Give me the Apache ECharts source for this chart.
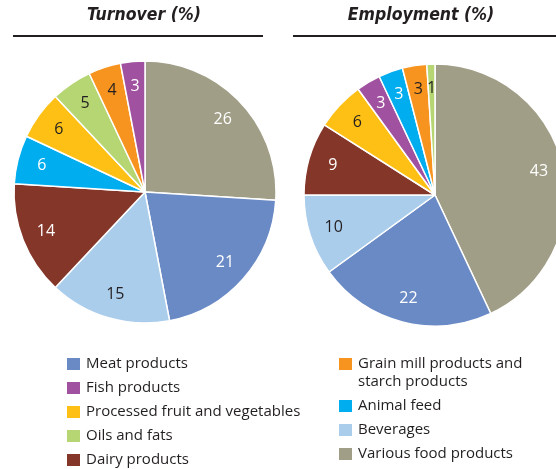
<html>
<head>
<meta charset="UTF-8">
<script src="https://cdnjs.cloudflare.com/ajax/libs/echarts/6.0.0/echarts.min.js"></script>
</head>
<body style="margin:0">
<div id="main" style="width:556px;height:469px"></div>
<script>
// categories in the order the legend lists them
var categories = ['Meat products', 'Fish products', 'Processed fruit and vegetables', 'Oils and fats', 'Dairy products',
  'Grain mill products and starch products', 'Animal feed', 'Beverages', 'Various food products'];

// slices, clockwise from 12 o'clock
var turnoverNames = ['Various food products', 'Meat products', 'Beverages', 'Dairy products', 'Animal feed',
  'Processed fruit and vegetables', 'Oils and fats', 'Grain mill products and starch products', 'Fish products'];
var turnoverValues = [26, 21, 15, 14, 6, 6, 5, 4, 3];

var employmentNames = ['Various food products', 'Meat products', 'Beverages', 'Dairy products',
  'Processed fruit and vegetables', 'Fish products', 'Animal feed', 'Grain mill products and starch products', 'Oils and fats'];
var employmentValues = [43, 22, 10, 9, 6, 3, 3, 3, 1];

var colors = {
  'Meat products': '#6a8ac6',
  'Fish products': '#a0519f',
  'Processed fruit and vegetables': '#fec014',
  'Oils and fats': '#b5d673',
  'Dairy products': '#843629',
  'Grain mill products and starch products': '#f7941f',
  'Animal feed': '#00adee',
  'Beverages': '#abcdec',
  'Various food products': '#a09e86'
};
// slices whose number is printed dark
var darkText = ['Processed fruit and vegetables', 'Oils and fats', 'Grain mill products and starch products', 'Beverages'];

var chart = echarts.init(document.getElementById('main'));
var font = 'Open Sans';
var ink = '#231f20';
var R = 131;

function slices(names, values) {
  return names.map(function (n, i) {
    return {name: n, value: values[i], itemStyle: {color: colors[n]}};
  });
}
function labels(names, values) {
  return names.map(function (n, i) {
    return {name: n, value: values[i],
      label: {color: darkText.indexOf(n) >= 0 ? ink : '#ffffff'}};
  });
}
function pie(center, names, values) {
  return {
    type: 'pie', center: center, radius: [0, R], startAngle: 90, clockwise: true,
    avoidLabelOverlap: false,
    itemStyle: {borderColor: '#ffffff', borderWidth: 1.5},
    label: {show: false}, labelLine: {show: false},
    emphasis: {disabled: true},
    data: slices(names, values)
  };
}
// transparent ring on top, only to place the numbers further out
function pieLabels(center, names, values) {
  return {
    type: 'pie', center: center, radius: [Math.round(R * 0.58), R], startAngle: 90, clockwise: true,
    avoidLabelOverlap: false, silent: true,
    itemStyle: {color: 'rgba(0,0,0,0)', borderWidth: 0},
    label: {show: true, position: 'inside', formatter: '{c}', fontFamily: font, fontSize: 16},
    labelLine: {show: false},
    emphasis: {disabled: true},
    data: labels(names, values)
  };
}

var titleStyle = {fontFamily: 'DejaVu Sans Condensed', fontStyle: 'italic', fontWeight: 'bold', fontSize: 17.5, color: ink};
var legendText = {fontFamily: font, fontSize: 15, color: ink, lineHeight: 18};

var option = {
  animation: false,
  title: [
    {text: 'Turnover (%)', left: 139, top: 1, textAlign: 'center', textStyle: titleStyle},
    {text: 'Employment (%)', left: 416, top: 1, textAlign: 'center', textStyle: titleStyle}
  ],
  graphic: [
    {type: 'line', shape: {x1: 13, y1: 36, x2: 263, y2: 36}, style: {stroke: ink, lineWidth: 2}},
    {type: 'line', shape: {x1: 293, y1: 36, x2: 556, y2: 36}, style: {stroke: ink, lineWidth: 2}}
  ],
  legend: [
    {
      orient: 'vertical', left: 65, top: 355, height: 114, padding: 0, icon: 'rect',
      itemWidth: 15, itemHeight: 14, itemGap: 6,
      selectedMode: false, textStyle: legendText,
      data: categories.slice(0, 5)
    },
    {
      orient: 'vertical', left: 337, top: 337, height: 132, padding: 0, icon: 'rect',
      itemWidth: 15, itemHeight: 14, itemGap: 6,
      selectedMode: false, textStyle: legendText,
      // blank first line keeps the square level with the first line of text
      formatter: function (name) {
        return name === 'Grain mill products and starch products' ? '\nGrain mill products and\nstarch products' : name;
      },
      data: categories.slice(5)
    }
  ],
  series: [
    pie([145, 192], turnoverNames, turnoverValues),
    pie([435, 195], employmentNames, employmentValues),
    pieLabels([145, 192], turnoverNames, turnoverValues),
    pieLabels([435, 195], employmentNames, employmentValues)
  ]
};
chart.setOption(option);
</script>
</body>
</html>
